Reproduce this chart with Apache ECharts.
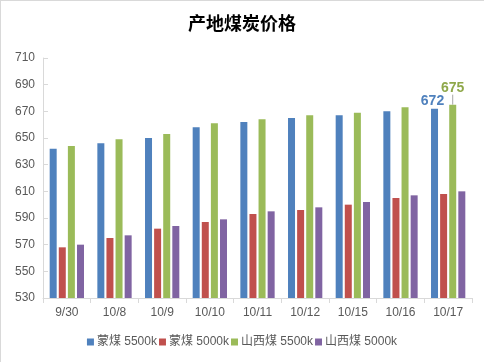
<!DOCTYPE html>
<html>
<head>
<meta charset="utf-8">
<script src="https://cdn.jsdelivr.net/npm/echarts@6/dist/echarts.min.js"></script>
<style>
html,body{margin:0;padding:0;background:#fff;}
#frame{position:absolute;left:0;top:0;width:484px;height:362px;box-sizing:border-box;border-left:1px solid #d9d9d9;border-top:1px solid #d9d9d9;}
#main{position:absolute;left:0;top:0;width:484px;height:362px;}
</style>
</head>
<body>
<div id="frame"></div>
<div id="main"></div>
<script>
var categories = ['9/30','10/8','10/9','10/10','10/11','10/12','10/15','10/16','10/17'];
var seriesNames = ['蒙煤 5500k','蒙煤 5000k','山西煤 5500k','山西煤 5000k'];
var mengmei5500 = [642, 646, 650, 658, 662, 665, 667, 670, 672];
var mengmei5000 = [568, 575, 582, 587, 593, 596, 600, 605, 608];
var shanxi5500 = [644, 649, 653, 661, 664, 667, 669, 673, 675];
var shanxi5000 = [570, 577, 584, 589, 595, 598, 602, 607, 610];
var yTicks = [530, 550, 570, 590, 610, 630, 650, 670, 690, 710];

var colors = ['#4F81BD','#C0504D','#9BBB59','#8064A2'];
var font = '"Liberation Sans", "Noto Sans CJK SC", sans-serif';
var lastIdx = categories.length - 1;

function lastLabel(vals, color) {
  return vals.map(function (v, i) {
    if (i !== lastIdx) return v;
    return {
      value: v,
      label: {show: true, position: 'top', distance: 1, color: color, fontWeight: 'bold', fontSize: 14, fontFamily: font}
    };
  });
}

var chart = echarts.init(document.getElementById('main'));
chart.setOption({
  animation: false,
  color: colors,
  title: {
    text: '产地煤炭价格', left: 'center', top: 9,
    textStyle: {fontSize: 18, fontWeight: 'bold', color: '#000', fontFamily: '"Noto Sans CJK SC", sans-serif'}
  },
  legend: {
    bottom: 9, left: 'center', itemWidth: 7, itemHeight: 7, itemGap: 2,
    icon: 'rect',
    textStyle: {fontSize: 12, color: '#595959', fontFamily: font, padding: [0, 0, 0, -2]},
    data: seriesNames
  },
  grid: {left: 43, right: 12, top: 58, bottom: 64, containLabel: false},
  xAxis: {
    type: 'category', data: categories,
    axisLine: {lineStyle: {color: '#d9d9d9', width: 1}},
    axisTick: {show: true, length: 5, lineStyle: {color: '#d9d9d9'}},
    axisLabel: {color: '#595959', fontSize: 12, margin: 9, fontFamily: font}
  },
  yAxis: {
    type: 'value', min: yTicks[0], max: yTicks[yTicks.length - 1], interval: 20,
    axisLine: {show: true, lineStyle: {color: '#d9d9d9'}},
    axisTick: {show: true, inside: true, length: 5, lineStyle: {color: '#d9d9d9'}},
    splitLine: {show: false},
    axisLabel: {color: '#595959', fontSize: 12, margin: 8, fontFamily: font}
  },
  series: [
    {name: seriesNames[0], type: 'bar', data: lastLabel(mengmei5500, '#4F81BD'), barWidth: 7, barGap: '30%',
     labelLayout: {dx: -2}},
    {name: seriesNames[1], type: 'bar', data: mengmei5000, barWidth: 7, barGap: '30%'},
    {name: seriesNames[2], type: 'bar', data: lastLabel(shanxi5500, '#8FA84A'), barWidth: 7, barGap: '30%',
     labelLayout: {dy: -9}, labelLine: {show: true, lineStyle: {color: '#a6a6a6', width: 1}}},
    {name: seriesNames[3], type: 'bar', data: shanxi5000, barWidth: 7, barGap: '30%'}
  ]
});
</script>
</body>
</html>
